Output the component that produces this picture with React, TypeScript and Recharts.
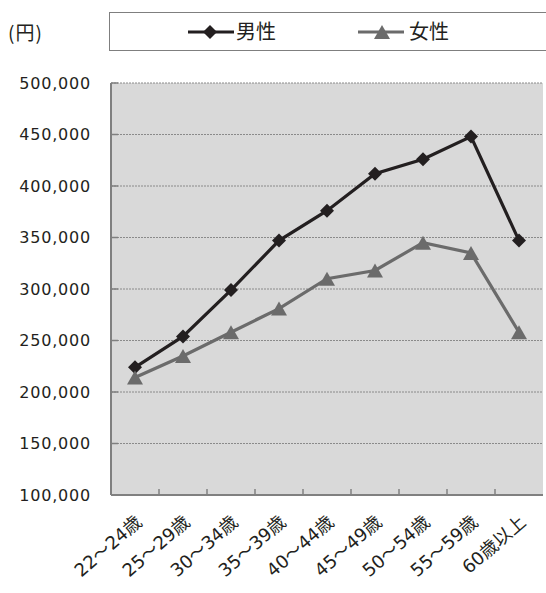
import React from 'react';
import { LineChart, Line, XAxis, YAxis, CartesianGrid, Legend } from 'recharts';

const categories = ['22～24歳', '25～29歳', '30～34歳', '35～39歳', '40～44歳', '45～49歳', '50～54歳', '55～59歳', '60歳以上'];
const maleValues = [224000, 254000, 299000, 347000, 376000, 412000, 426000, 448000, 347000];
const femaleValues = [214000, 235000, 258000, 281000, 310000, 318000, 345000, 335000, 258000];
const yTicks = [100000, 150000, 200000, 250000, 300000, 350000, 400000, 450000, 500000];
const seriesNames = { male: '男性', female: '女性' };
const unitLabel = '(円)';

const data = categories.map((c, i) => ({ category: c, male: maleValues[i], female: femaleValues[i] }));

const CHART_W = 546;
const CHART_H = 593;
const MARGIN = { top: 83, right: 3, bottom: 0, left: 0 };
const Y_AXIS_W = 111;
const HALF_BAND = (CHART_W - Y_AXIS_W - MARGIN.right) / categories.length / 2;

const MALE_COLOR = '#231f20';
const FEMALE_COLOR = '#6b6b6b';
const AXIS_COLOR = '#808080';
const NUM_FONT = '"DejaVu Sans", "Noto Sans CJK JP", sans-serif';
const JP_FONT = '"Noto Sans CJK JP", sans-serif';

const Diamond = (props: any) => {
  const { cx, cy, fill } = props;
  if (cx == null || cy == null) return null;
  const r = 7;
  return <path d={`M${cx},${cy - r}L${cx + r},${cy}L${cx},${cy + r}L${cx - r},${cy}Z`} fill={fill} />;
};

const Triangle = (props: any) => {
  const { cx, cy, fill } = props;
  if (cx == null || cy == null) return null;
  const w = 8, h = 7;
  return <path d={`M${cx},${cy - h}L${cx + w},${cy + h}L${cx - w},${cy + h}Z`} fill={fill} />;
};

const XTick = (props: any) => {
  const { x, y, payload, index } = props;
  return (
    <g>
      {index < categories.length - 1 && (
        <line x1={x + HALF_BAND} y1={y - 6} x2={x + HALF_BAND} y2={y} stroke={AXIS_COLOR} strokeWidth={1.5} />
      )}
      <g transform={`translate(${x + 8},${y + 29})`}>
        <text x={0} y={0} textAnchor="end" transform="rotate(-41)" fontFamily={NUM_FONT} fontSize={18} fill="#231f20">
          {payload.value}
        </text>
      </g>
    </g>
  );
};

const LegendContent = () => (
  <div
    style={{
      position: 'relative',
      width: 445,
      height: 39,
      border: '1.5px solid #7f7f7f',
      boxSizing: 'border-box',
      background: '#ffffff',
    }}
  >
    <svg style={{ position: 'absolute', left: 78, top: 11 }} width={46} height={16}>
      <line x1={0} y1={8} x2={46} y2={8} stroke={MALE_COLOR} strokeWidth={3} />
      <Diamond cx={22} cy={8} fill={MALE_COLOR} />
    </svg>
    <span
      style={{ position: 'absolute', left: 126, top: 4, fontFamily: JP_FONT, fontSize: 20, lineHeight: '28px', color: '#231f20' }}
    >
      {seriesNames.male}
    </span>
    <svg style={{ position: 'absolute', left: 248, top: 11 }} width={46} height={16}>
      <line x1={0} y1={8} x2={46} y2={8} stroke={FEMALE_COLOR} strokeWidth={3} />
      <Triangle cx={24} cy={8} fill={FEMALE_COLOR} />
    </svg>
    <span
      style={{ position: 'absolute', left: 299, top: 4, fontFamily: JP_FONT, fontSize: 20, lineHeight: '28px', color: '#231f20' }}
    >
      {seriesNames.female}
    </span>
  </div>
);

const fmt = (v: number) => v.toLocaleString('en-US');

export default function App() {
  return (
    <div style={{ position: 'absolute', left: 0, top: 0, width: CHART_W, height: CHART_H, background: '#fff' }}>
      <div
        style={{ position: 'absolute', left: 8, top: 18, fontFamily: JP_FONT, fontSize: 19, color: '#231f20', letterSpacing: 1 }}
      >
        {unitLabel}
      </div>
      <LineChart width={CHART_W} height={CHART_H} data={data} margin={MARGIN}>
        <CartesianGrid
          vertical={false}
          fill="#d9d9d9"
          stroke="#8a8a8a"
          strokeDasharray="2 1"
          horizontalValues={yTicks}
        />
        <XAxis
          dataKey="category"
          interval={0}
          padding={{ left: HALF_BAND, right: HALF_BAND }}
          height={98}
          tickLine={false}
          tickSize={0}
          tickMargin={0}
          axisLine={{ stroke: AXIS_COLOR, strokeWidth: 2 }}
          tick={<XTick />}
        />
        <YAxis
          width={Y_AXIS_W}
          domain={[100000, 500000]}
          ticks={yTicks}
          allowDataOverflow
          tickFormatter={fmt}
          tickSize={-7}
          tickMargin={27}
          axisLine={{ stroke: AXIS_COLOR, strokeWidth: 2 }}
          tickLine={{ stroke: AXIS_COLOR, strokeWidth: 1.5 }}
          tick={{ fontFamily: NUM_FONT, fontSize: 16, fill: '#231f20', letterSpacing: 0.8 }}
        />
        <Legend
          verticalAlign="middle"
          layout="horizontal"
          align="center"
          content={<LegendContent />}
          wrapperStyle={{ position: 'absolute', left: 109, top: 12, width: 445, height: 39 }}
        />
        <Line
          type="linear"
          dataKey="male"
          name={seriesNames.male}
          stroke={MALE_COLOR}
          strokeWidth={3.2}
          dot={<Diamond fill={MALE_COLOR} />}
          activeDot={false}
          isAnimationActive={false}
        />
        <Line
          type="linear"
          dataKey="female"
          name={seriesNames.female}
          stroke={FEMALE_COLOR}
          strokeWidth={3.2}
          dot={<Triangle fill={FEMALE_COLOR} />}
          activeDot={false}
          isAnimationActive={false}
        />
      </LineChart>
    </div>
  );
}
